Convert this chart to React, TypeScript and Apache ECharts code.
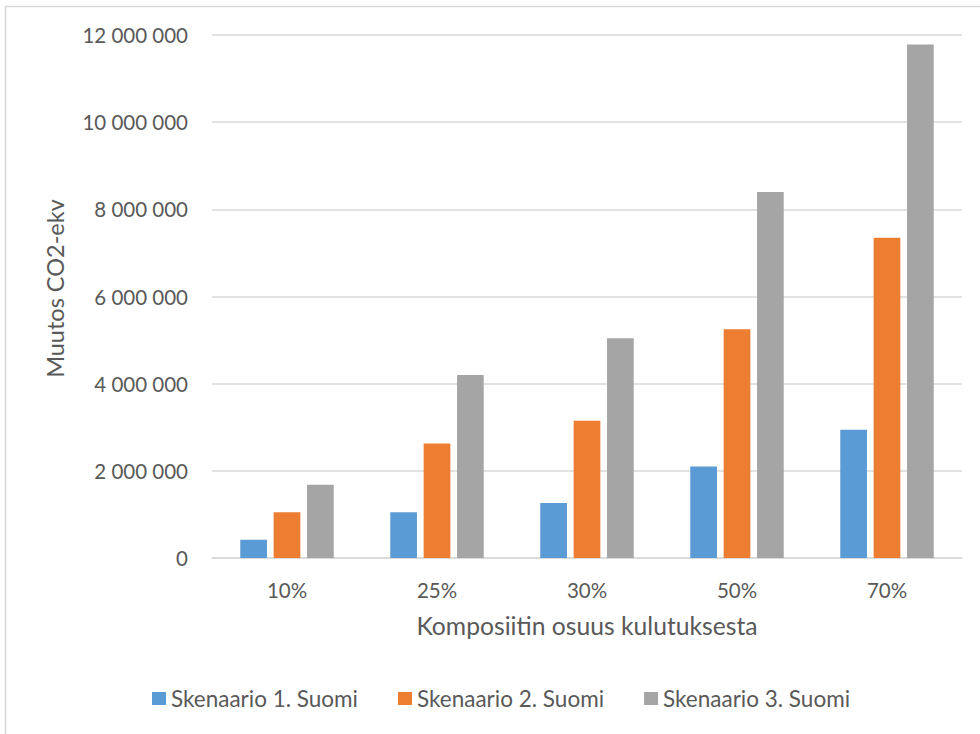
import React, { useEffect, useRef } from "react";
import * as echarts from "echarts";

const categories = ["10%", "25%", "30%", "50%", "70%"];
const seriesNames = ["Skenaario 1. Suomi", "Skenaario 2. Suomi", "Skenaario 3. Suomi"];
const scenario1 = [420000, 1050000, 1260000, 2100000, 2940000];
const scenario2 = [1050000, 2630000, 3150000, 5250000, 7350000];
const scenario3 = [1680000, 4200000, 5040000, 8400000, 11780000];
const colors = ["#5B9BD5", "#ED7D31", "#A5A5A5"];
const yAxisName = "Muutos CO2-ekv";
const xAxisName = "Komposiitin osuus kulutuksesta";

const FONT = "Lato, 'Noto Sans', sans-serif";
const TEXT = "#595959";

function fmt(v: number): string {
  return String(Math.round(v)).replace(/\B(?=(\d{3})+(?!\d))/g, " ");
}

export default function App() {
  const ref = useRef<HTMLDivElement>(null);
  useEffect(() => {
    if (!ref.current) return;
    const chart = echarts.init(ref.current, undefined, { renderer: "svg" });
    const data = [scenario1, scenario2, scenario3];
    chart.setOption({
      animation: false,
      backgroundColor: "#ffffff",
      textStyle: { fontFamily: FONT },
      graphic: [
        {
          type: "rect",
          shape: { x: 5.5, y: 6.5, width: 1100, height: 1000 },
          style: { fill: "none", stroke: "#D9D9D9", lineWidth: 1.5 },
          silent: true,
        },
      ],
      grid: { left: 212, right: 18, top: 35, bottom: 176, containLabel: false },
      legend: {
        top: 682,
        left: 147,
        itemWidth: 14,
        itemHeight: 13,
        itemGap: 40,
        icon: "rect",
        textStyle: { color: TEXT, fontSize: 22.5, fontFamily: FONT },
        data: seriesNames,
      },
      xAxis: {
        type: "category",
        data: categories,
        name: xAxisName,
        nameLocation: "middle",
        nameGap: 55,
        nameTextStyle: { color: TEXT, fontSize: 24.7, fontFamily: FONT },
        axisLine: { show: true, lineStyle: { color: "#D9D9D9", width: 1.5 } },
        axisTick: { show: false },
        axisLabel: { color: TEXT, fontSize: 20.5, margin: 21, fontFamily: FONT },
      },
      yAxis: {
        type: "value",
        min: 0,
        max: 12000000,
        interval: 2000000,
        name: yAxisName,
        nameLocation: "middle",
        nameGap: 145,
        nameTextStyle: {
          color: TEXT,
          fontSize: 23.5,
          fontFamily: FONT,
          padding: [0, 0, 0, 16],
        },
        axisLine: { show: false },
        axisTick: { show: false },
        splitLine: { lineStyle: { color: "#D9D9D9", width: 1.5 } },
        axisLabel: {
          color: TEXT,
          fontSize: 20.5,
          margin: 24,
          fontFamily: FONT,
          formatter: (v: number) => fmt(v),
        },
      },
      series: seriesNames.map((name, i) => ({
        name,
        type: "bar",
        data: data[i],
        barGap: "25%",
        barCategoryGap: "37.7%",
        itemStyle: { color: colors[i] },
      })),
    });
    return () => chart.dispose();
  }, []);
  return (
    <div
      ref={ref}
      style={{ position: "fixed", left: 0, top: 0, width: 980, height: 734 }}
    />
  );
}
